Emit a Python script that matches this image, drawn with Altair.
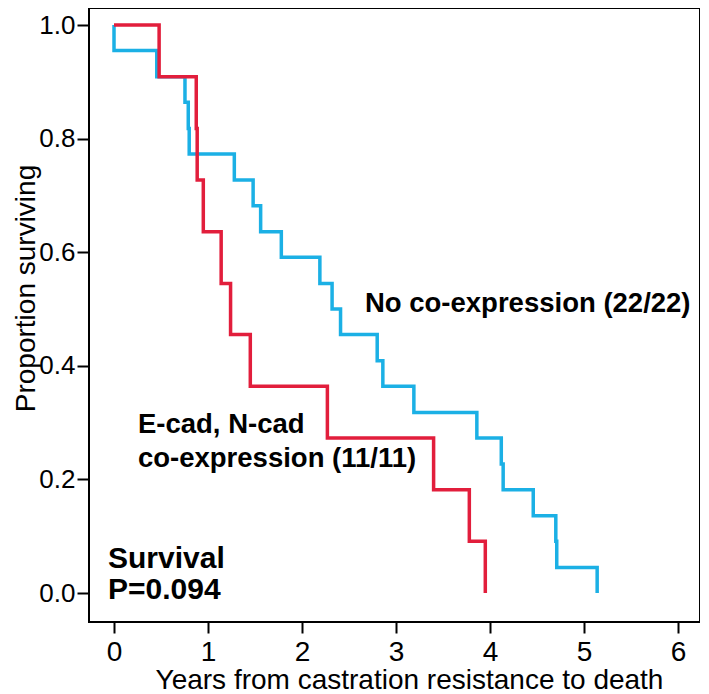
import altair as alt
import pandas as pd

# Kaplan-Meier step data (time of each drop, survival after it)
blue_t = [0.0, 0.0, 0.455, 0.755, 0.79, 0.80, 1.28, 1.48, 1.56, 1.78, 2.19, 2.32,
          2.41, 2.80, 2.86, 3.19, 3.86, 4.12, 4.14, 4.46, 4.70, 4.71, 5.14]
blue_s = [1.0, 0.955, 0.909, 0.864, 0.818, 0.773, 0.727, 0.682, 0.636, 0.591, 0.545, 0.5,
          0.455, 0.409, 0.364, 0.318, 0.273, 0.227, 0.182, 0.136, 0.091, 0.045, 0.0]

red_t = [0.0, 0.48, 0.875, 0.885, 0.95, 1.14, 1.24, 1.45, 2.27, 3.40, 3.78, 3.95]
red_s = [1.0, 0.909, 0.818, 0.727, 0.636, 0.545, 0.455, 0.364, 0.273, 0.182, 0.091, 0.0]

x_ticks = [0, 1, 2, 3, 4, 5, 6]
y_ticks = [0.0, 0.2, 0.4, 0.6, 0.8, 1.0]

label_text = ["No co-expression (22/22)", "E-cad, N-cad", "co-expression (11/11)"]
label_x = [2.67, 0.255, 0.255]
label_y = [0.495, 0.282, 0.222]

stat_text = ["Survival", "P=0.094"]
stat_x = [-0.064, -0.064]
stat_y = [0.044, -0.0106]

blue = pd.DataFrame({"t": blue_t, "s": blue_s, "i": list(range(len(blue_t)))})
red = pd.DataFrame({"t": red_t, "s": red_s, "i": list(range(len(red_t)))})
labels = pd.DataFrame({"t": label_x, "s": label_y, "label": label_text})
stats = pd.DataFrame({"t": stat_x, "s": stat_y, "label": stat_text})

FONT = "Liberation Sans"

xscale = alt.Scale(domain=[-0.266, 6.234], nice=False, zero=False)
yscale = alt.Scale(domain=[-0.051, 1.03], nice=False, zero=False)

xenc = alt.X("t:Q", scale=xscale,
             axis=alt.Axis(values=x_ticks, format="d",
                           title="Years from castration resistance to death",
                           titleX=320))
yenc = alt.Y("s:Q", scale=yscale,
             axis=alt.Axis(values=y_ticks, format=".1f", title="Proportion surviving",
                           titleX=-49, titleY=280, titleAngle=270,
                           titleBaseline="bottom", titleAlign="center"))

blue_line = alt.Chart(blue).mark_line(
    interpolate="step-after", color="#1BB0E5", strokeWidth=3.5
).encode(x=xenc, y=yenc, order="i:Q")

red_line = alt.Chart(red).mark_line(
    interpolate="step-after", color="#E21E3C", strokeWidth=3.5
).encode(x="t:Q", y="s:Q", order="i:Q")

label_marks = alt.Chart(labels).mark_text(
    align="left", baseline="alphabetic", font=FONT, fontWeight="bold",
    fontSize=27.5, color="black"
).encode(x="t:Q", y="s:Q", text="label:N")

stat_marks = alt.Chart(stats).mark_text(
    align="left", baseline="alphabetic", font=FONT, fontWeight="bold",
    fontSize=30, color="black"
).encode(x="t:Q", y="s:Q", text="label:N")

chart = alt.layer(blue_line, red_line, label_marks, stat_marks).properties(
    width=611, height=614,
    padding={"left": 4, "top": 0, "right": 0, "bottom": 0}
).configure_view(
    stroke="black", strokeWidth=2
).configure_axis(
    grid=False, domain=False,
    labelFont=FONT, titleFont=FONT, titleFontWeight="normal",
    labelColor="black", titleColor="black",
    tickColor="black", tickWidth=2
).configure_axisY(
    labelFontSize=26, titleFontSize=28, tickSize=12, labelPadding=2, titlePadding=0
).configure_axisX(
    labelFontSize=28, titleFontSize=28, tickSize=11, labelPadding=5, titlePadding=0
)

chart.save("out.html", embed_options={"renderer": "svg", "actions": False})
